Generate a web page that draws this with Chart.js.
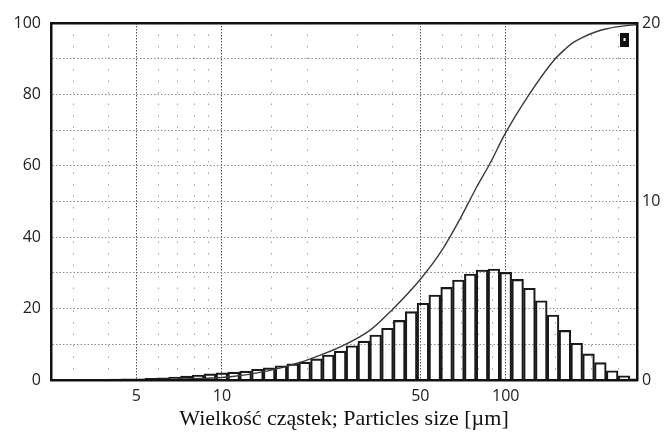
<!DOCTYPE html>
<html>
<head>
<meta charset="utf-8">
<script src="https://cdn.jsdelivr.net/npm/chart.js@4/dist/chart.umd.min.js"></script>
<style>
  html, body { margin: 0; padding: 0; background: #fff; }
  #wrap { width: 665px; height: 432px; }
</style>
</head>
<body>
<div id="wrap"><canvas id="chart"></canvas></div>
<script>
// histogram bins: centre size [µm] and share [%] (right axis)
const binSizes = [3.481, 3.831, 4.217, 4.642, 5.109, 5.623, 6.190, 6.813, 7.499, 8.254, 9.085,
  10.00, 11.01, 12.12, 13.34, 14.68, 16.16, 17.78, 19.57, 21.54, 23.71, 26.10, 28.73,
  31.62, 34.81, 38.31, 42.17, 46.42, 51.09, 56.23, 61.90, 68.13, 74.99, 82.54, 90.85,
  100.0, 110.1, 121.2, 133.4, 146.8, 161.6, 177.8, 195.7, 215.4, 237.1, 261.0, 287.3];
const binPercent = [0.03, 0.04, 0.05, 0.06, 0.07, 0.09, 0.12, 0.17, 0.22, 0.28, 0.34,
  0.40, 0.44, 0.50, 0.60, 0.68, 0.80, 0.90, 1.00, 1.18, 1.40, 1.62, 1.92,
  2.18, 2.52, 2.90, 3.34, 3.83, 4.30, 4.76, 5.19, 5.60, 5.94, 6.16, 6.22,
  6.03, 5.64, 5.14, 4.44, 3.64, 2.78, 2.06, 1.46, 0.97, 0.52, 0.24, 0.06];

// cumulative curve (left axis)
const cumSizes = [2.5, 4, 6, 8.4, 10.9, 14.4, 18.8, 22.1, 26, 33.2, 39.6, 49.8, 60.1, 68.9,
  78.9, 87.8, 99.2, 120.5, 147.6, 161.4, 172.6, 186.7, 205.8, 226.8, 250, 275.5, 289];
const cumPercent = [0, 0.03, 0.15, 0.45, 1.0, 2.5, 4.9, 6.9, 9.2, 13.9, 19.5, 28, 36.8, 45,
  54, 60.5, 68.8, 79.8, 89.5, 92.6, 94.5, 96.0, 97.4, 98.4, 99.0, 99.4, 99.5];

const xGridValues = [3, 4, 5, 6, 7, 8, 9, 10, 15, 20, 30, 40, 50, 60, 70, 80, 90, 100, 150, 200, 250];
const xLabelValues = [5, 10, 50, 100];
const xMin = 2.5, xMax = 290;

const isMajor = (c) => !!(c.tick && xLabelValues.includes(c.tick.value));

const markerPlugin = {
  id: "marker",
  afterDraw(chart) {
    const { ctx, chartArea: a } = chart;
    ctx.save();
    ctx.fillStyle = "#111";
    ctx.fillRect(a.right - 17, a.top + 10, 9, 14);
    ctx.fillStyle = "#fff";
    ctx.fillRect(a.right - 13.5, a.top + 15, 2, 3);
    ctx.restore();
  }
};

const tickFont = { family: "'Open Sans', sans-serif", size: 16 };

new Chart(document.getElementById("chart"), {
  type: "bar",
  data: {
    datasets: [{
      type: "line",
      label: "Cumulative",
      data: cumSizes.map((s, i) => ({ x: s, y: cumPercent[i] })),
      yAxisID: "y",
      borderColor: "#3a3a3a",
      borderWidth: 1.4,
      pointRadius: 0,
      cubicInterpolationMode: "monotone",
      fill: false,
      order: 0,
      clip: 0
    }, {
      type: "bar",
      label: "Share",
      data: binSizes.map((s, i) => ({ x: s, y: binPercent[i] })),
      yAxisID: "y1",
      backgroundColor: "rgba(255,255,255,0)",
      borderColor: "#1a1a1a",
      borderWidth: 1.5,
      barPercentage: 1,
      categoryPercentage: 1,
      order: 1,
      clip: 0
    }]
  },
  options: {
    responsive: true,
    maintainAspectRatio: false,
    animation: false,
    layout: { padding: { top: 23, left: 0, right: 0, bottom: 0 } },
    plugins: { legend: { display: false }, tooltip: { enabled: false } },
    scales: {
      x: {
        type: "logarithmic",
        position: "bottom",
        min: xMin,
        max: xMax,
        offset: false,
        afterBuildTicks: (axis) => {
          axis.ticks = xGridValues.map(v => ({ value: v }));
        },
        afterFit: (axis) => { axis.height = 52; },
        ticks: {
          autoSkip: false,
          maxRotation: 0,
          padding: 7,
          color: "#222",
          font: tickFont,
          callback: (v) => xLabelValues.includes(v) ? String(v) : ""
        },
        grid: {
          offset: false,
          drawTicks: false,
          color: (c) => isMajor(c) ? "#555" : "#a0a0a0",
          lineWidth: 1
        },
        // in v4 the grid line dash lives in border.dash
        border: {
          display: true, color: "#111", width: 2.5, z: 1,
          dash: (c) => isMajor(c) ? [1.5, 1.5] : [1.5, 10]
        },
        title: {
          display: true,
          text: "Wielkość cząstek; Particles size [µm]",
          color: "#111",
          font: { family: "'Liberation Serif', serif", size: 22 },
          padding: { top: 0, bottom: 0 }
        }
      },
      xTop: {
        type: "linear",
        position: "top",
        min: 0,
        max: 1,
        ticks: { display: false },
        grid: { display: false, drawTicks: false },
        border: { display: true, color: "#111", width: 2.5, z: 1 }
      },
      y: {
        position: "left",
        min: 0,
        max: 100,
        afterFit: (axis) => { axis.width = 51; },
        ticks: {
          stepSize: 10,
          padding: 10,
          color: "#222",
          font: tickFont,
          callback: (v) => v % 20 === 0 ? String(v) : ""
        },
        grid: { drawTicks: false, color: "#8a8a8a" },
        border: { display: true, color: "#111", width: 2.5, z: 1, dash: [1.5, 2] }
      },
      y1: {
        position: "right",
        min: 0,
        max: 20,
        afterFit: (axis) => { axis.width = 28; },
        ticks: { stepSize: 10, padding: 5, color: "#222", font: tickFont },
        grid: { drawOnChartArea: false, drawTicks: false },
        border: { display: true, color: "#111", width: 2.5, z: 1 }
      }
    }
  },
  plugins: [markerPlugin]
});
</script>
</body>
</html>
